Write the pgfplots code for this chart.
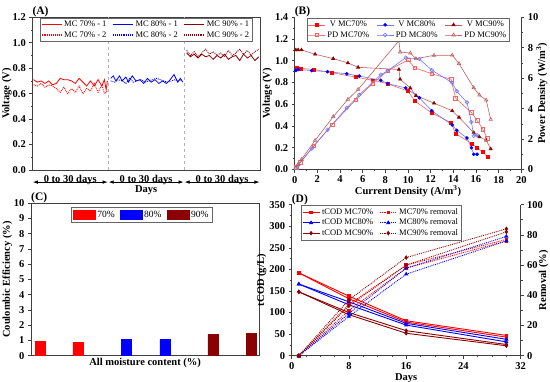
\documentclass[border=0pt]{standalone}
\usepackage{fontspec}
\setmainfont{Liberation Serif}
\usepackage{pgfplots}
\pgfplotsset{compat=1.18}
\usetikzlibrary{arrows.meta}
\definecolor{cR}{RGB}{255,0,0}
\definecolor{cB}{RGB}{0,0,255}
\definecolor{cD}{RGB}{139,0,0}
\definecolor{lR}{RGB}{245,100,100}
\definecolor{lB}{RGB}{110,120,245}
\definecolor{lD}{RGB}{190,95,95}
\pgfplotsset{
  panel/.style={
    scale only axis, anchor=south west,
    tick label style={font=\bfseries\fontsize{10.5}{12}\selectfont},
    /pgf/number format/assume math mode=true,
    label style={font=\bfseries\fontsize{10.5}{12}\selectfont},
    legend style={font=\fontsize{8.5}{9.5}\selectfont, draw=black!60, inner sep=1pt, row sep=-1pt},
    tick align=outside,
    major tick length=3pt, minor tick length=1.8pt,
    axis line style={black!75, line width=0.7pt},
    every tick/.style={black!75, line width=0.6pt},
  },
}
\begin{document}
\begin{tikzpicture}
\useasboundingbox (0,0) rectangle (550pt,381pt);
%================ Panel A
\begin{axis}[panel, at={(32.3pt,211pt)}, width=227.7pt, height=152.7pt,
  tick pos=left,
  xmin=0, xmax=90, ymin=0, ymax=1.2,
  ytick={0,0.2,0.4,0.6,0.8,1.0,1.2}, minor y tick num=1,
  yticklabel style={/pgf/number format/.cd, fixed, fixed zerofill, precision=1},
  xtick={15,45,75}, xticklabels={0 to 30 days,0 to 30 days,0 to 30 days},
  xtick style={draw=none}, xticklabel style={yshift=1pt},
  ylabel={Voltage (V)}, ylabel style={yshift=-6pt},
  clip=false,
  legend columns=3,
  legend style={at={(0.5,0.995)}, anchor=north, /tikz/every even column/.append style={column sep=4pt}},
  legend image code/.code={\draw[#1, line width=1.1pt] (0pt,0pt) -- (20pt,0pt);},
]
\draw[black!30, dashed, line width=0.6pt] (axis cs:30,0) -- (axis cs:30,1.2);
\draw[black!30, dashed, line width=0.6pt] (axis cs:60,0) -- (axis cs:60,1.2);
\addplot[draw=cR, line width=0.8pt] coordinates {(0.5,0.71) (2,0.69) (3.5,0.70) (5,0.68) (6.5,0.70) (8,0.67) (9.5,0.68) (11,0.72) (12.5,0.71) (14,0.71) (15.5,0.70) (17,0.68) (18.5,0.72) (20,0.69) (21.5,0.66) (23,0.70) (24.5,0.66) (26,0.71) (27.5,0.66) (28.5,0.71) (29.2,0.63) (29.7,0.70)};
\addlegendentry{MC 70\% - 1}
\addplot[draw=cB, line width=0.8pt] coordinates {(31,0.72) (32,0.74) (33,0.70) (34.5,0.74) (35.5,0.70) (37,0.73) (38,0.69) (39.5,0.74) (41,0.70) (42.5,0.71) (44,0.68) (45.5,0.72) (47,0.69) (48.5,0.71) (50,0.68) (51.5,0.70) (53,0.68) (54.5,0.71) (56,0.75) (57.5,0.69) (58.5,0.72) (59.5,0.69)};
\addlegendentry{MC 80\% - 1}
\addplot[draw=cD, line width=0.8pt] coordinates {(61,0.92) (62.5,0.89) (64,0.91) (65.5,0.88) (67,0.91) (68.5,0.89) (70,0.90) (71.5,0.87) (73,0.90) (74.5,0.88) (76,0.91) (77.5,0.87) (79,0.89) (80.5,0.90) (82,0.86) (83.5,0.91) (85,0.88) (86.5,0.90) (88,0.86) (89.5,0.89)};
\addlegendentry{MC 90\% - 1}
\addplot[draw=cR, densely dotted, line width=0.9pt] coordinates {(0.5,0.67) (2,0.66) (3.5,0.68) (5,0.65) (6.5,0.67) (8,0.66) (9.5,0.64) (11,0.61) (12.5,0.65) (14,0.60) (15.5,0.64) (17,0.61) (18.5,0.66) (20,0.60) (21.5,0.64) (23,0.62) (24.5,0.68) (26,0.61) (27.5,0.67) (28.5,0.60) (29.7,0.62)};
\addlegendentry{MC 70\% - 2}
\addplot[draw=cB, densely dotted, line width=0.9pt] coordinates {(31,0.70) (32.5,0.69) (34,0.71) (35.5,0.70) (37,0.68) (38.5,0.72) (40,0.69) (41.5,0.70) (43,0.71) (44.5,0.69) (46,0.70) (47.5,0.71) (49,0.72) (50.5,0.71) (52,0.70) (53.5,0.69) (55,0.70) (56.5,0.71) (58,0.70) (59.5,0.71)};
\addlegendentry{MC 80\% - 2}
\addplot[draw=cD, densely dotted, line width=0.9pt] coordinates {(61,0.94) (62.5,0.90) (64,0.93) (65.5,0.89) (67,0.92) (68.5,0.95) (70,0.91) (71.5,0.93) (73,0.90) (74.5,0.92) (76,0.89) (77.5,0.94) (79,0.90) (80.5,0.92) (82,0.95) (83.5,0.91) (85,0.94) (86.5,0.90) (88,0.93) (89.5,0.95)};
\addlegendentry{MC 90\% - 2}
\draw[{Latex[length=5pt,width=3.5pt]}-{Latex[length=5pt,width=3.5pt]}, line width=0.7pt] (axis cs:0.2,-0.095) -- (axis cs:29.8,-0.095);
\draw[{Latex[length=5pt,width=3.5pt]}-{Latex[length=5pt,width=3.5pt]}, line width=0.7pt] (axis cs:30.2,-0.095) -- (axis cs:59.8,-0.095);
\draw[{Latex[length=5pt,width=3.5pt]}-{Latex[length=5pt,width=3.5pt]}, line width=0.7pt] (axis cs:60.2,-0.095) -- (axis cs:89.8,-0.095);
\node[font=\bfseries\fontsize{10.5}{12}\selectfont] at (axis cs:45,-0.158) {Days};
\node[anchor=south west, inner sep=0pt, font=\bfseries\fontsize{11.5}{12}\selectfont] at (rel axis cs:0,1) {(A)};
\end{axis}
%================ Panel B (left)
\begin{axis}[panel, at={(294.7pt,211.5pt)}, width=226.6pt, height=152.2pt,
  axis y line*=left, axis x line*=bottom,
  xmin=0, xmax=20, ymin=0, ymax=1.4,
  xtick={0,2,...,20}, minor x tick num=1,
  ytick={0,0.2,0.4,0.6,0.8,1.0,1.2,1.4}, minor y tick num=1,
  yticklabel style={/pgf/number format/.cd, fixed, fixed zerofill, precision=1},
  xlabel={Current Density (A/m\textsuperscript{3})}, xlabel style={yshift=4pt},
  ylabel={Voltage (V)}, ylabel style={yshift=-4pt},
  clip=false,
]
\addplot[lR, line width=0.6pt, mark=square*, mark size=1.5pt, mark options={cR, solid}] coordinates {(0.15,0.94) (0.5,0.93) (1.7,0.92) (3.3,0.89) (5.4,0.85) (6.9,0.82) (8.2,0.79) (10.0,0.72) (10.6,0.63) (12.1,0.52) (13.8,0.43) (14.2,0.33) (15.6,0.24) (16.1,0.20) (16.6,0.16) (17.0,0.12)};
\addplot[lB, line width=0.6pt, mark=*, mark size=1.5pt, mark options={cB, solid}] coordinates {(0.1,0.91) (0.3,0.92) (1.5,0.91) (2.9,0.90) (4.6,0.88) (5.7,0.86) (7.6,0.82) (8.2,0.79) (9.8,0.75) (11.0,0.66) (12.1,0.54) (13.9,0.41) (14.3,0.36) (15.2,0.29) (15.6,0.20) (15.8,0.14) (16.1,0.14)};
\addplot[lD, line width=0.6pt, mark=triangle*, mark size=1.8pt, mark options={cD, solid}] coordinates {(0.1,1.10) (0.3,1.10) (0.6,1.10) (1.8,1.06) (3.4,1.02) (4.7,0.98) (5.6,0.94) (9.2,0.92) (9.3,0.83) (10.2,0.75) (10.7,0.68) (12.3,0.61) (13.9,0.54) (14.5,0.48) (15.8,0.34) (16.3,0.30) (16.9,0.27) (17.3,0.19)};
\node[anchor=south west, inner sep=0pt, font=\bfseries\fontsize{11.5}{12}\selectfont] at (rel axis cs:0,1) {(B)};
\end{axis}
%================ Panel B (right)
\begin{axis}[panel, at={(294.7pt,211.5pt)}, width=226.6pt, height=152.2pt,
  axis y line*=right, axis x line=none,
  xmin=0, xmax=20, ymin=0, ymax=10,
  ytick={0,2,4,6,8,10}, minor y tick num=1,
  ylabel={Power Density (W/m\textsuperscript{3})}, ylabel style={yshift=9pt},
  legend columns=3,
  legend style={at={(0.5,0.995)}, anchor=north, /tikz/every even column/.append style={column sep=5pt}},
]
\addlegendimage{lR, line width=0.6pt, mark=square*, mark size=1.5pt, mark options={cR}}
\addlegendentry{V MC70\%}
\addlegendimage{lB, line width=0.6pt, mark=*, mark size=1.5pt, mark options={cB}}
\addlegendentry{V MC80\%}
\addlegendimage{lD, line width=0.6pt, mark=triangle*, mark size=1.8pt, mark options={cD}}
\addlegendentry{V MC90\%}
\addplot[lR, line width=0.6pt, mark=square, mark size=1.8pt] coordinates {(0.15,0.14) (0.5,0.47) (1.7,1.56) (3.3,2.94) (5.4,4.59) (6.9,5.66) (8.2,6.48) (10.0,7.20) (10.6,6.68) (12.1,6.29) (13.8,5.93) (14.2,4.69) (15.6,3.74) (16.1,3.22) (16.6,2.66) (17.0,2.04)};
\addlegendentry{PD MC70\%}
\addplot[lB, line width=0.6pt, mark=o, mark size=1.8pt] coordinates {(0.1,0.09) (0.3,0.28) (1.5,1.37) (2.9,2.61) (4.6,4.05) (5.7,4.90) (7.6,6.23) (8.2,6.48) (9.8,7.35) (11.0,7.26) (12.1,6.53) (13.9,5.70) (14.3,5.15) (15.2,4.41) (15.6,3.12) (15.8,2.21) (16.1,2.25)};
\addlegendentry{PD MC80\%}
\addplot[lD, line width=0.6pt, mark=triangle, mark size=2pt] coordinates {(0.1,0.11) (0.3,0.33) (0.6,0.66) (1.8,1.91) (3.4,3.47) (4.7,4.61) (5.6,5.26) (9.2,8.46) (9.3,7.72) (10.2,7.65) (10.7,7.28) (12.3,7.50) (13.9,7.51) (14.5,6.96) (15.8,5.37) (16.3,4.89) (16.9,4.56) (17.3,3.29)};
\addlegendentry{PD MC90\%}
\end{axis}
%================ Panel C
\begin{axis}[panel, at={(31pt,25.3pt)}, width=228.3pt, height=152.4pt,
  tick pos=left,
  xmin=0, xmax=10, ymin=0, ymax=10,
  xtick=\empty, ytick={0,1,...,10},
  xlabel={All moisture content (\%)}, xlabel style={yshift=4pt},
  ylabel={Coulombic Efficiency (\%)}, ylabel style={yshift=-5pt},
  clip=false,
  legend columns=3,
  legend style={at={(0.485,0.975)}, anchor=north, font=\fontsize{9.5}{10}\selectfont, inner sep=1.5pt, /tikz/every even column/.append style={column sep=3pt}},
  legend image code/.code={\fill[#1] (0pt,-4pt) rectangle (22pt,4.5pt);},
]
\addplot[ybar, bar width=10pt, bar shift=0pt, fill=cR, draw=cR] coordinates {(0.4,0.93) (2.05,0.88)};
\addlegendentry{70\%}
\addplot[ybar, bar width=10pt, bar shift=0pt, fill=cB, draw=cB] coordinates {(4.18,1.05) (5.86,1.05)};
\addlegendentry{80\%}
\addplot[ybar, bar width=10pt, bar shift=0pt, fill=cD, draw=cD] coordinates {(7.97,1.38) (9.65,1.45)};
\addlegendentry{90\%}
\node[anchor=south west, inner sep=0pt, font=\bfseries\fontsize{11.5}{12}\selectfont] at (rel axis cs:0,1) {(C)};
\end{axis}
%================ Panel D (left)
\begin{axis}[panel, at={(291.7pt,25.3pt)}, width=229pt, height=151pt,
  axis y line*=left, axis x line*=bottom,
  xmin=0, xmax=32, ymin=0, ymax=350,
  xtick={0,8,16,24,32}, minor x tick num=3,
  ytick={0,50,...,350}, minor y tick num=1,
  xlabel={Days}, xlabel style={yshift=3pt},
  ylabel={tCOD (g/L)}, ylabel style={yshift=-4pt},
  clip=false,
]
\addplot[cR, line width=0.9pt, mark=square*, mark size=1.3pt] coordinates {(1,192) (8,138) (16,81) (30,47)};
\addplot[cR, line width=0.9pt, mark=square*, mark size=1.3pt] coordinates {(1,192) (8,132) (16,78) (30,43)};
\addplot[cB, line width=0.9pt, mark=triangle*, mark size=1.6pt] coordinates {(1,166) (8,125) (16,75) (30,38)};
\addplot[cB, line width=0.9pt, mark=triangle*, mark size=1.6pt] coordinates {(1,166) (8,118) (16,71) (30,32)};
\addplot[cD, line width=0.9pt, mark=diamond*, mark size=1.6pt] coordinates {(1,148) (8,100) (16,58) (30,26)};
\addplot[cD, line width=0.9pt, mark=diamond*, mark size=1.6pt] coordinates {(1,148) (8,95) (16,52) (30,23)};
\node[anchor=south west, inner sep=0pt, font=\bfseries\fontsize{11.5}{12}\selectfont] at (rel axis cs:0,1) {(D)};
\end{axis}
%================ Panel D (right)
\begin{axis}[panel, at={(291.7pt,25.3pt)}, width=229pt, height=151pt,
  axis y line*=right, axis x line=none,
  xmin=0, xmax=32, ymin=0, ymax=100,
  ytick={0,20,...,100}, minor y tick num=1,
  ylabel={Removal (\%)}, ylabel style={yshift=11pt},
  legend columns=2,
  legend style={at={(0.04,0.995)}, anchor=north west, /tikz/every even column/.append style={column sep=4pt}},
]
\addlegendimage{cR, line width=0.9pt, mark=square*, mark size=1.3pt}
\addlegendentry{tCOD MC70\%}
\addlegendimage{cR, line width=0.9pt, densely dotted, mark=square*, mark size=1.3pt, mark options={solid}}
\addlegendentry{MC70\% removal}
\addlegendimage{cB, line width=0.9pt, mark=triangle*, mark size=1.6pt}
\addlegendentry{tCOD MC80\%}
\addlegendimage{cB, line width=0.9pt, densely dotted, mark=triangle*, mark size=1.6pt, mark options={solid}}
\addlegendentry{MC80\% removal}
\addlegendimage{cD, line width=0.9pt, mark=diamond*, mark size=1.6pt}
\addlegendentry{tCOD MC90\%}
\addlegendimage{cD, line width=0.9pt, densely dotted, mark=diamond*, mark size=1.6pt, mark options={solid}}
\addlegendentry{MC90\% removal}
\addplot[forget plot, cR, line width=0.9pt, densely dotted, mark=square*, mark size=1.3pt, mark options={solid}] coordinates {(1,0) (8,34) (16,60) (30,77)};
\addplot[forget plot, cR, line width=0.9pt, densely dotted, mark=square*, mark size=1.3pt, mark options={solid}] coordinates {(1,0) (8,30) (16,58) (30,76)};
\addplot[forget plot, cB, line width=0.9pt, densely dotted, mark=triangle*, mark size=1.6pt, mark options={solid}] coordinates {(1,0) (8,28) (16,58) (30,79)};
\addplot[forget plot, cB, line width=0.9pt, densely dotted, mark=triangle*, mark size=1.6pt, mark options={solid}] coordinates {(1,0) (8,26) (16,54) (30,76)};
\addplot[forget plot, cD, line width=0.9pt, densely dotted, mark=diamond*, mark size=1.6pt, mark options={solid}] coordinates {(1,0) (8,37) (16,65) (30,84)};
\addplot[forget plot, cD, line width=0.9pt, densely dotted, mark=diamond*, mark size=1.6pt, mark options={solid}] coordinates {(1,0) (8,33) (16,60) (30,82)};
\end{axis}
\end{tikzpicture}
\end{document}
